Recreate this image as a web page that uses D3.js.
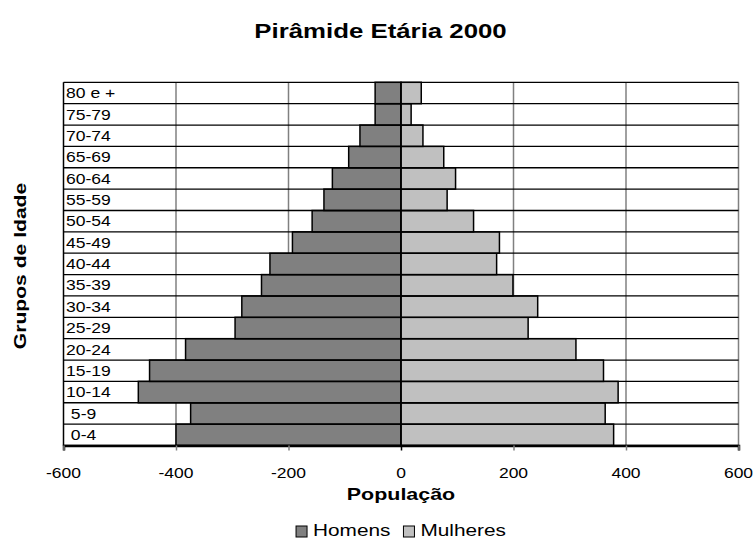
<!DOCTYPE html>
<html><head><meta charset="utf-8">
<script src="https://cdn.jsdelivr.net/npm/d3@7"></script>
<style>body{margin:0;background:#fff}svg{display:block;font-family:"Liberation Sans",Arial,sans-serif}</style>
</head><body>
<svg id="c" width="755" height="541"></svg>
<script>
const categories = ["0-4","5-9","10-14","15-19","20-24","25-29","30-34","35-39","40-44","45-49","50-54","55-59","60-64","65-69","70-74","75-79","80 e +"];
const homens   = [400,374,467,447,383,295,283,248,233,193,158,137,122,93,73,46,46];
const mulheres = [378,363,386,360,311,226,243,199,170,175,129,82,97,76,39,18,36];
const xTicks = [-600,-400,-200,0,200,400,600];
const seriesNames = ["Homens","Mulheres"];
const seriesColors = ["#808080","#c0c0c0"];

const svg = d3.select("#c");
const SX = 1.25; // horizontal text stretch
const L = 63.5, R = 738.5, T = 82.3, B = 445.5;
const x = d3.scaleLinear().domain([-600,600]).range([L,R]);
const y = d3.scaleBand().domain(categories.slice().reverse()).range([T,B]).padding(0);

function stext(g, tx, ty, str, opts){
  const t = g.append("text")
    .attr("transform", `translate(${tx},${ty}) ${opts.rot?`rotate(${opts.rot})`:""} scale(${opts.sx||SX},1)`)
    .attr("text-anchor", opts.anchor||"middle")
    .attr("font-size", opts.size)
    .attr("font-weight", opts.bold?"bold":"normal")
    .attr("fill","#000")
    .text(str);
  return t;
}

// title
stext(svg, 380.5, 38, "Pirâmide Etária 2000", {size:20, bold:true, sx:1.29});

// vertical gridlines
svg.append("g").selectAll("line").data(xTicks.filter(d=>d!==-600 && d!==0)).join("line")
  .attr("x1",d=>x(d)).attr("x2",d=>x(d)).attr("y1",T).attr("y2",B)
  .attr("stroke","#808080").attr("stroke-width",1.5);

// bars
const rows = categories.map((c,i)=>({c, h:homens[i], m:mulheres[i]}));
svg.append("g").selectAll("rect").data(rows).join("rect")
  .attr("x",d=>x(-d.h)).attr("width",d=>x(0)-x(-d.h))
  .attr("y",d=>y(d.c)).attr("height",y.bandwidth())
  .attr("fill",seriesColors[0]).attr("stroke","#000").attr("stroke-width",1.5);
svg.append("g").selectAll("rect").data(rows).join("rect")
  .attr("x",x(0)).attr("width",d=>x(d.m)-x(0))
  .attr("y",d=>y(d.c)).attr("height",y.bandwidth())
  .attr("fill",seriesColors[1]).attr("stroke","#000").attr("stroke-width",1.5);

// horizontal gridlines at category boundaries
const bounds = categories.map(c=>y(c)).concat([B]);
svg.append("g").selectAll("line").data(bounds).join("line")
  .attr("x1",L).attr("x2",R).attr("y1",d=>d).attr("y2",d=>d)
  .attr("stroke","#000").attr("stroke-width",1.3);

// left border and zero line
svg.append("line").attr("x1",L).attr("x2",L).attr("y1",T).attr("y2",B).attr("stroke","#000").attr("stroke-width",1.5);
svg.append("line").attr("x1",x(0)).attr("x2",x(0)).attr("y1",T).attr("y2",B).attr("stroke","#000").attr("stroke-width",1.5);

// x axis
const xAxis = d3.axisBottom(x).tickValues(xTicks).tickSize(5).tickFormat("");
const ax = svg.append("g").attr("transform",`translate(0,${B})`).call(xAxis);
ax.select(".domain").attr("stroke","#000").attr("stroke-width",2.5);
ax.selectAll(".tick line").attr("stroke",d=>d===0?"#000":"#808080").attr("stroke-width",1.5);
xTicks.forEach(v=>stext(svg, x(v), 478, String(v), {size:14}));

// category labels inside plot
categories.forEach(c=>{
  const lbl = (c==="5-9"||c==="0-4") ? "\u00a0"+c : c;
  stext(svg, 66, y(c)+y.bandwidth()/2+5.2, lbl, {size:15, anchor:"start", sx:1.17});
});

// axis titles
stext(svg, 401, 500, "População", {size:16.5, bold:true, sx:1.3});
stext(svg, 26, 266, "Grupos de Idade", {size:16, bold:true, rot:-90, sx:1.32});

// legend
const lg = svg.append("g");
let cx = 0;
seriesNames.forEach((n,i)=>{
  const g = lg.append("g").attr("transform",`translate(${cx},0)`);
  g.append("rect").attr("x",0).attr("y",-10).attr("width",11).attr("height",11)
    .attr("fill",seriesColors[i]).attr("stroke","#000").attr("stroke-width",1);
  const t = stext(g, 17, 0, n, {size:16, anchor:"start", sx:1.3});
  const w = t.node().getBBox().width*1.3;
  cx += 17 + w + 13;
});
const totalW = cx - 13;
lg.attr("transform",`translate(${401 - totalW/2},536)`);
</script>
</body></html>
